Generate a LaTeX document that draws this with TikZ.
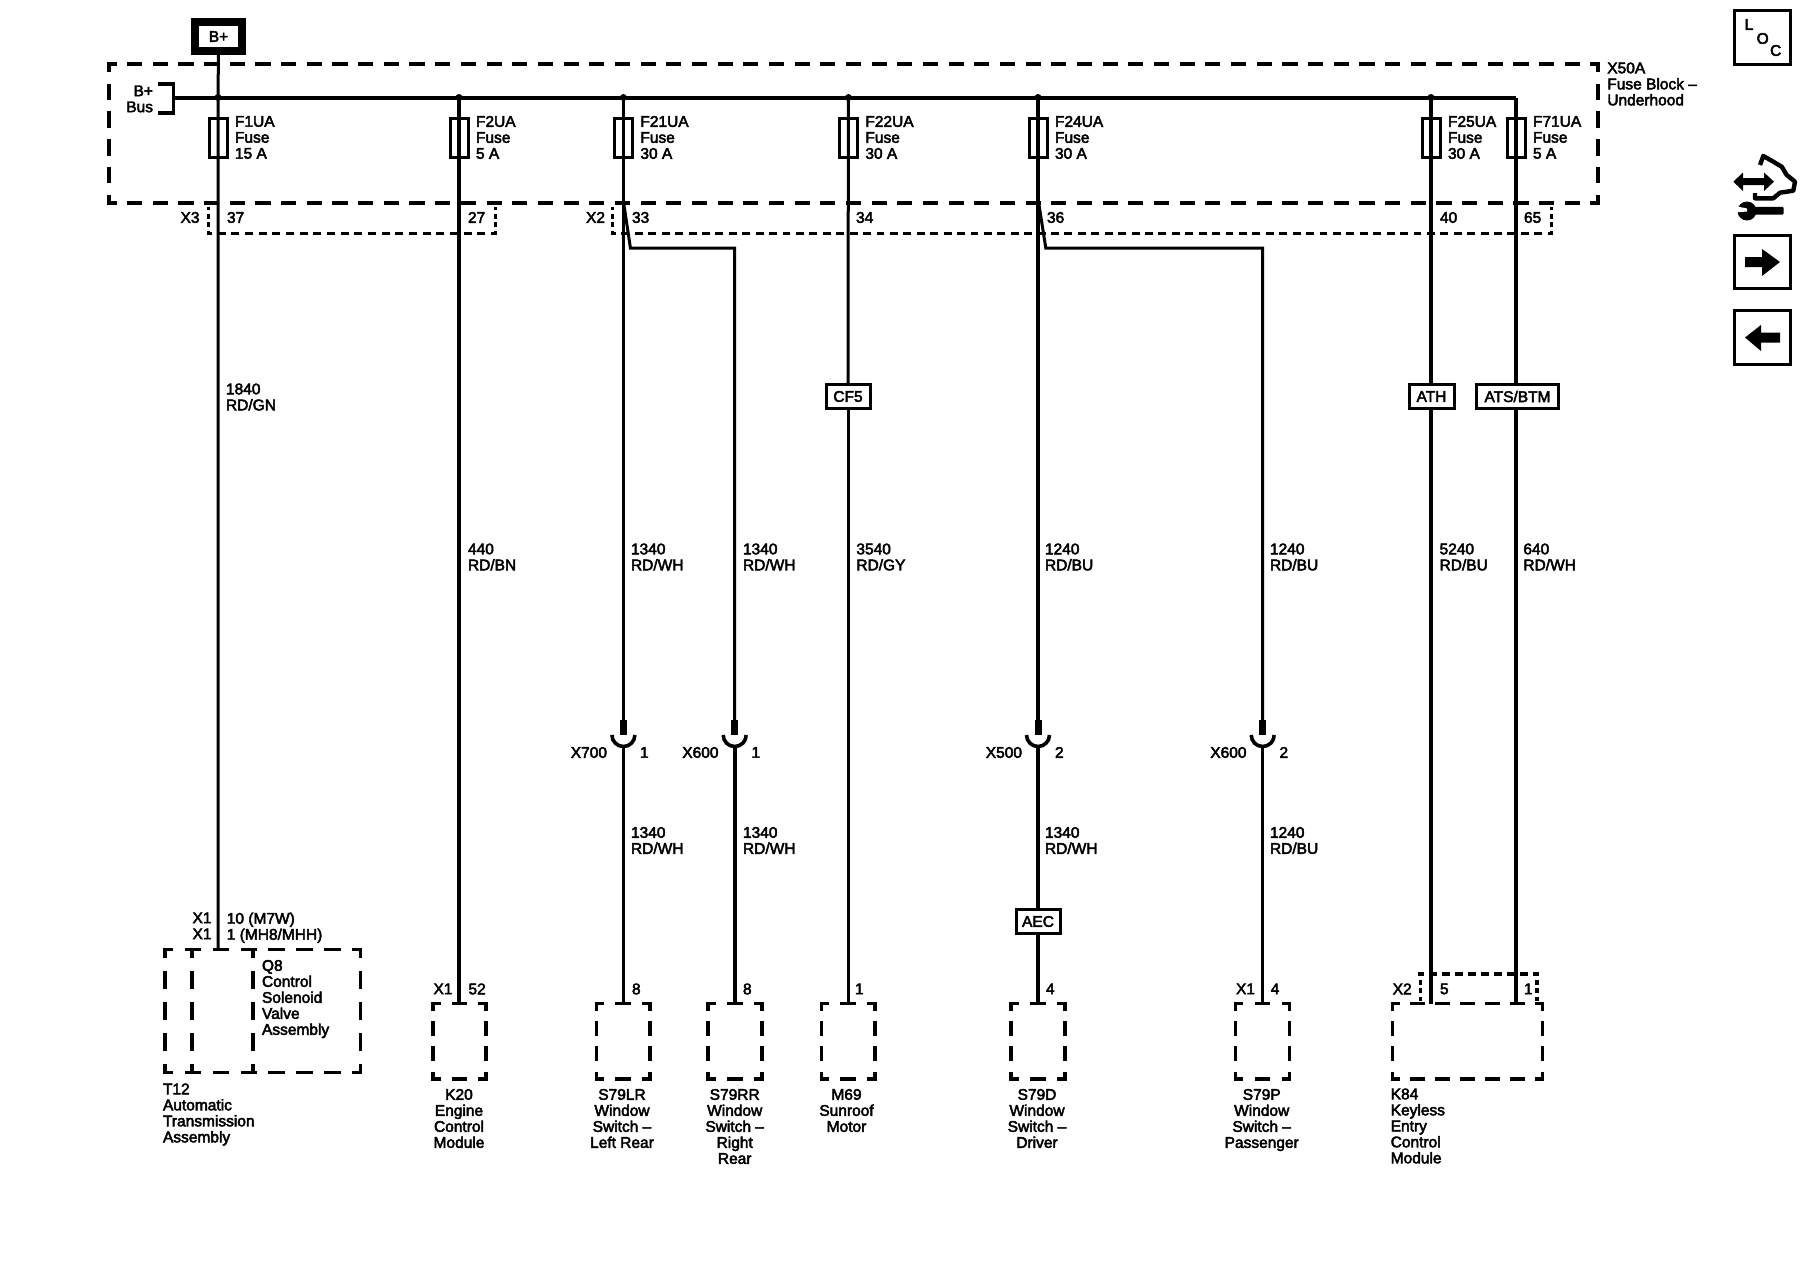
\documentclass[tikz,border=0pt]{standalone}
\usepackage{fontspec}
\setmainfont{Liberation Sans}[FakeBold=3]
\tikzset{
 wirethin/.style={line width=3pt},
 wirethick/.style={line width=4pt},
 lab/.style={inner sep=0pt,outer sep=0pt,anchor=north west,align=left,font=\fontsize{15.5}{16}\selectfont},
 labc/.style={inner sep=0pt,outer sep=0pt,anchor=north,align=center,font=\fontsize{15.5}{16}\selectfont},
 labr/.style={inner sep=0pt,outer sep=0pt,anchor=north east,align=right,font=\fontsize{15.5}{16}\selectfont},
 fusebox/.style={draw,line width=3pt,minimum width=18pt,minimum height=39pt,inner sep=0pt,outer sep=0pt},
 tagbox/.style={draw,fill=white,line width=3pt,minimum height=24pt,inner sep=0pt,outer sep=0pt,font=\fontsize{15.5}{16}\selectfont},
 iconbox/.style={draw,line width=3.4pt,minimum width=55.5pt,minimum height=53.5pt,inner sep=0pt,outer sep=0pt},
 jdot/.style={circle,fill=black,inner sep=0pt,minimum size=7pt},
}
% one dashed side, with half a dash at each end
\newcommand{\dside}[6]{%
 \pgfmathsetmacro\LLen{veclen(#3-#1,#4-#2)}%
 \pgfmathsetmacro\NNum{max(1,round(\LLen/#5))}%
 \pgfmathsetmacro\PPer{\LLen/\NNum}%
 \pgfmathsetmacro\DDas{\PPer*0.59-#6}%
 \pgfmathsetmacro\GGap{\PPer-\DDas}%
 \pgfmathsetmacro\HHal{\DDas/2}%
 \draw[line width=#6pt,line cap=rect,dash pattern=on \DDas pt off \GGap pt,dash phase=\HHal pt] (#1,#2) -- (#3,#4);%
}
\newcommand{\hper}{25.6}
% a dashed module box, also a named node
\newcommand{\dbox}[6][3.4]{%
 \pgfmathsetmacro\WWid{#5-#3}\pgfmathsetmacro\HHei{#6-#4}%
 \node[inner sep=0pt,outer sep=0pt,minimum width=\WWid pt,minimum height=\HHei pt,anchor=north west] (#2) at (#3,#4) {};%
 \dside{#3}{#4}{#5}{#4}{\hper}{#1}\dside{#3}{#6}{#5}{#6}{\hper}{#1}%
 \dside{#3}{#4}{#3}{#6}{28}{#1}\dside{#5}{#4}{#5}{#6}{28}{#1}%
}
% inline connector: stub and cup
\newcommand{\cupconn}[2]{% name, x
 \coordinate (#1t) at (#2,720);
 \coordinate (#1m) at (#2,735);
 \coordinate (#1b) at (#2,746);
 \draw[line width=7pt] (#1t) -- (#1m);
 \draw[line width=3.6pt] (#2-11.5,735) arc[start angle=180,end angle=0,radius=11.5];
}
\begin{document}
\begin{tikzpicture}[x=1pt,y=-1pt,line join=miter]
\useasboundingbox (0,0) rectangle (1800,1280);
% fuse block
\dbox{x50a}{109}{64}{1598}{203}
% connector outlines
\dside{208}{208}{208}{233}{9.5}{3}
\dside{208}{233.3}{495}{233.3}{13.4}{3}
\dside{495}{208}{495}{233}{9.5}{3}
\dside{612}{208}{612}{233}{9.5}{3}
\dside{612}{233.3}{1551.7}{233.3}{13.4}{3}
\dside{1551.7}{208}{1551.7}{233}{9.5}{3}
% B+
\node[draw,line width=8pt,minimum width=47pt,minimum height=29pt,inner sep=0pt,outer sep=0pt,font=\fontsize{15.5}{16}\selectfont] (bplus) at (218.5,36.5) {B+};
\node[labr] (busa) at (153,85.5) {B+\\Bus};
% bus
\coordinate (brt) at (158,84);
\coordinate (brb) at (158,113);
\coordinate (brm) at (173.5,98);
\coordinate (jf71) at (1516,98);
\draw[line width=3.4pt] (brt) -| (brm |- brb) -- (brb);
\draw[line width=4.6pt] (brm) -- (jf71);
\foreach \n/\x in {f1/218,f2/459,f21/623.4,f22/848.4,f24/1038,f25/1431}{
 \node[jdot] (j\n) at (\x,97.5) {};
}
\foreach \n/\x/\a/\b in {f1/218/F1UA/15 A,f2/459/F2UA/5 A,f21/623.4/F21UA/30 A,f22/848.4/F22UA/30 A,f24/1038/F24UA/30 A,f25/1431/F25UA/30 A,f71/1516/F71UA/5 A}{
 \node[fusebox] (fb\n) at (\x,137.5) {};
 \node[lab] (ft\n) at (\x+17,116) {\a\\Fuse\\\b};
}
% fuse block and connector labels
\node[lab] (x50lab) at (1607.3,62.5) {X50A\\Fuse Block –\\Underhood};
\node[labr] (x3lab) at (199.5,212) {X3};
\node[labr] (x2lab) at (605,212) {X2};
\foreach \n/\x/\t in {p37/227/37,p27/468/27,p33/632/33,p34/856/34,p36/1047/36,p40/1440/40,p65/1524/65}{
 \node[lab] (\n) at (\x,212) {\t};
}
% modules
\renewcommand{\hper}{28}
\dbox{t12}{165}{949.3}{360.4}{1072.7}
\dside{191.8}{949.3}{191.8}{1072.7}{28}{3.4}
\dside{253}{949.3}{253}{1072.7}{28}{3.4}
\renewcommand{\hper}{25.6}
\dbox{k20}{433}{1003.5}{486}{1079}
\dbox{lr}{596.5}{1003.5}{650}{1079}
\dbox{rr}{708}{1003.5}{762}{1079}
\dbox{m69}{821.5}{1003.5}{875}{1079}
\dbox{sd}{1011}{1003.5}{1065}{1079}
\dbox{sp}{1235.5}{1003.5}{1289.5}{1079}
\dbox{k84}{1392.3}{1003.5}{1542.7}{1079}
\dside{1420}{974}{1537.3}{974}{12.6}{3.2}
\dside{1420}{974}{1420}{999}{9.5}{3}
\dside{1537.3}{974}{1537.3}{999}{9.5}{4}
% inline tags
\node[tagbox,minimum width=44pt] (cf5) at (848,396.5) {CF5};
\node[tagbox,minimum width=45pt] (ath) at (1431.5,396.5) {ATH};
\node[tagbox,minimum width=82pt] (ats) at (1517.5,396.5) {ATS/BTM};
\node[tagbox,minimum width=44pt] (aec) at (1038,921.5) {AEC};
% cups
\cupconn{cxa}{623.4}
\cupconn{cxb}{734.7}
\cupconn{cxc}{1038}
\cupconn{cxd}{1262.7}
% wires
\draw[wirethin] (bplus.south) -- (jf1.center) -- (jf1.center |- t12.north);
\draw[wirethick] (jf2.center) -- (jf2.center |- k20.north);
\draw[wirethin] (jf21.center) -- (cxat);
\draw[wirethin] (cxab) -- (cxab |- lr.north);
\coordinate (b21a) at (624,205);
\coordinate (b21b) at (630.4,248);
\draw[wirethin] (b21a) -- (b21b) -| (cxbt);
\draw[wirethick] (cxbb) -- (cxbb |- rr.north);
\draw[wirethin] (jf22.center) -- (cf5.north);
\draw[wirethin] (cf5.south) -- (cf5.south |- m69.north);
\draw[wirethick] (jf24.center) -- (cxct);
\draw[wirethick] (cxcb) -- (aec.north);
\draw[wirethick] (aec.south) -- (aec.south |- sd.north);
\coordinate (b24a) at (1039,205);
\coordinate (b24b) at (1045.8,248);
\draw[wirethin] (b24a) -- (b24b) -| (cxdt);
\draw[wirethin] (cxdb) -- (cxdb |- sp.north);
\draw[wirethick] (jf25.center) -- (jf25.center |- ath.north);
\draw[wirethick] (jf25.center |- ath.south) -- (jf25.center |- k84.north);
\draw[wirethick] (jf71) -- (jf71 |- ats.north);
\draw[wirethick] (jf71 |- ats.south) -- (jf71 |- k84.north);
% wire labels
\foreach \n/\x/\y/\a/\b in {w1/226/383.5/1840/RD\slash GN,
 w2/468/543.5/440/RD\slash BN,
 w3/631/543.5/1340/RD\slash WH,
 w4/743/543.5/1340/RD\slash WH,
 w5/856.4/543.5/3540/RD\slash GY,
 w6/1045/543.5/1240/RD\slash BU,
 w7/1270/543.5/1240/RD\slash BU,
 w8/1439.6/543.5/5240/RD\slash BU,
 w9/1523.4/543.5/640/RD\slash WH,
 w10/631/827/1340/RD\slash WH,
 w11/743/827/1340/RD\slash WH,
 w12/1045/827/1340/RD\slash WH,
 w13/1270/827/1240/RD\slash BU}{
 \node[lab] (\n) at (\x,\y) {\a\\\b};
}
% connector labels
\foreach \n/\x/\t/\p in {xa/607/X700/1,xb/718.5/X600/1,xc/1022/X500/2,xd/1246.5/X600/2}{
 \node[labr] (\n) at (\x,747) {\t};
 \node[lab] (\n p) at (\x+33,747) {\p};
}
% module pin labels
\node[labr] (t12x) at (211.5,912.5) {X1\\X1};
\node[lab] (t12p) at (226.8,912.5) {10 (M7W)\\1 (MH8/MHH)};
\node[labr] (k20x) at (452.5,983.5) {X1};
\node[lab] (k20p) at (468.5,983.5) {52};
\node[lab] (lrp) at (632,983.5) {8};
\node[lab] (rrp) at (743,983.5) {8};
\node[lab] (m69p) at (855,983.5) {1};
\node[lab] (sdp) at (1046,983.5) {4};
\node[labr] (spx) at (1255,983.5) {X1};
\node[lab] (spp) at (1270.7,983.5) {4};
\node[labr] (k84x) at (1411.7,983.5) {X2};
\node[lab] (k84p) at (1440,983.5) {5};
\node[lab] (k84q) at (1524,983.5) {1};
% module names
\node[lab] (q8) at (262,960) {Q8\\Control\\Solenoid\\Valve\\Assembly};
\node[lab] (t12n) at (163,1083.5) {T12\\Automatic\\Transmission\\Assembly};
\node[labc] (k20n) at (459,1089) {K20\\Engine\\Control\\Module};
\node[labc] (lrn) at (622,1089) {S79LR\\Window\\Switch –\\Left Rear};
\node[labc] (rrn) at (734.7,1089) {S79RR\\Window\\Switch –\\Right\\Rear};
\node[labc] (m69n) at (846.5,1089) {M69\\Sunroof\\Motor};
\node[labc] (sdn) at (1037,1089) {S79D\\Window\\Switch –\\Driver};
\node[labc] (spn) at (1261.7,1089) {S79P\\Window\\Switch –\\Passenger};
\node[lab] (k84n) at (1390.7,1088.5) {K84\\Keyless\\Entry\\Control\\Module};
% icons
\node[iconbox] (loc) at (1762.5,37.5) {};
\node[inner sep=0pt,font=\fontsize{15.5}{16}\selectfont] (locl) at (1749,24.5) {L};
\node[inner sep=0pt,font=\fontsize{15.5}{16}\selectfont] (loco) at (1762.7,38.5) {O};
\node[inner sep=0pt,font=\fontsize{15.5}{16}\selectfont] (locc) at (1775.7,50.5) {C};
\node[iconbox] (nxt) at (1762.5,262) {};
\fill (1745,257) -- (1762,257) -- (1762,249) -- (1780,262) -- (1762,276) -- (1762,267) -- (1745,267) -- cycle;
\node[iconbox] (prv) at (1762.5,337.5) {};
\fill (1780,332.5) -- (1761,332.5) -- (1761,325) -- (1745,337.5) -- (1761,351) -- (1761,342.5) -- (1780,342.5) -- cycle;
% service icon: double arrow, hand, wrench
\fill (1733.3,181.7) -- (1743,172.5) -- (1743,178.2) -- (1764,178.2) -- (1764,172.5) -- (1774,181.7) -- (1764,191) -- (1764,185.2) -- (1743,185.2) -- (1743,191) -- cycle;
\draw[line width=4.4pt,line join=round] (1760,165) -- (1763.3,156) -- (1773.3,161.7) -- (1781.7,166.7) -- (1786.7,175) -- (1795,181.7) -- (1793.3,190.7) -- (1780,192.7) -- (1773.3,198.3) -- (1755,198.3) -- (1755,193);
\fill (1747,211) circle[radius=9.5];
\fill[rounded corners=1pt] (1747,206.8) rectangle (1783.5,214.5);
\fill[white] (1735,206) -- (1747,208.5) -- (1747,211.5) -- (1735,212.5) -- cycle;
\end{tikzpicture}
\end{document}
